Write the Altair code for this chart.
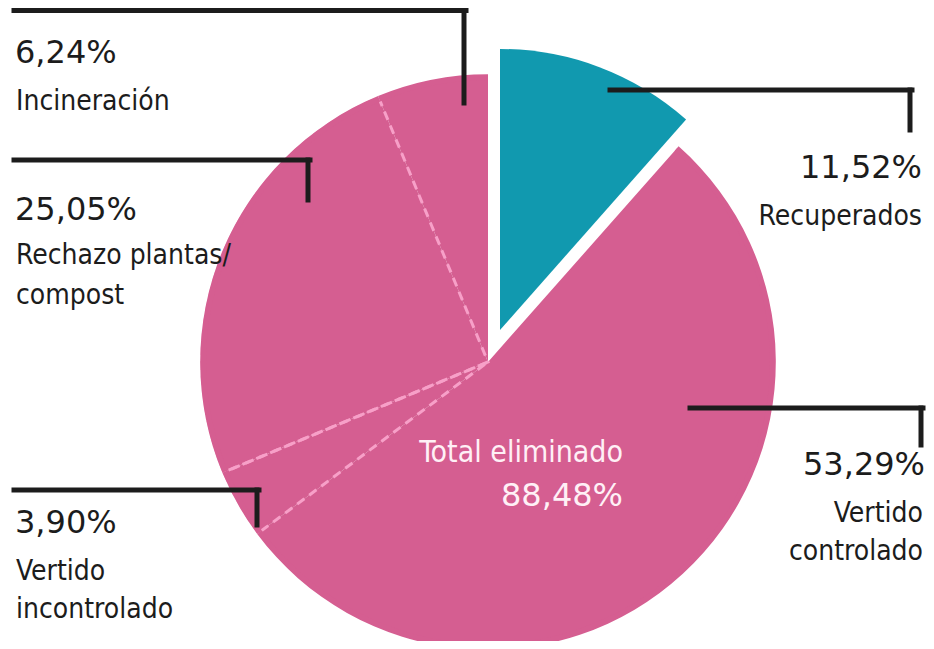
import altair as alt
import pandas as pd

# ---- data ----
categories = ["Recuperados", "Vertido controlado", "Vertido incontrolado",
              "Rechazo plantas/ compost", "Incineración"]
values = [11.52, 53.29, 3.90, 25.05, 6.24]
groups = ["recuperado", "eliminado", "eliminado", "eliminado", "eliminado"]
label_lines = [["Recuperados"], ["Vertido", "controlado"], ["Vertido", "incontrolado"],
               ["Rechazo plantas/", "compost"], ["Incineración"]]
total_label = "Total eliminado"

PINK = "#D55E91"
TEAL = "#1199AF"
DASH = "#F7A0C8"
INK = "#1c1c1c"
COND = "DejaVu Sans Condensed, Liberation Sans Narrow, sans-serif"

def pct(v):
    return f"{v:.2f}".replace(".", ",") + "%"

pie_df = pd.DataFrame({"category": categories, "value": values,
                       "group": groups, "order": list(range(len(values)))})

# ---- layout (view pixels) ----
CX, CY, R = 480, 354, 286
TEAL_CX, TEAL_CY, TEAL_R = 492, 322, 281

theta = alt.Theta("start:Q", scale=alt.Scale(domain=[0, 100], range=[0, 6.283185307179586]))
theta2 = alt.Theta2("end:Q")

base = (alt.Chart(pie_df)
        .transform_window(cum="sum(value)", sort=[alt.SortField("order")], frame=[None, 0])
        .transform_calculate(start="datum.cum - datum.value", end="datum.cum"))

pink = base.transform_filter("datum.group == 'eliminado'").mark_arc(
    radius=R, fill=PINK).encode(
    theta=theta, theta2=theta2, x=alt.value(CX), y=alt.value(CY))

dashes = base.transform_filter(
    "datum.category == 'Vertido incontrolado' || datum.category == 'Rechazo plantas/ compost'"
).mark_arc(radius=R, fillOpacity=0, stroke=DASH, strokeWidth=3, strokeDash=[9, 6]).encode(
    theta=theta, theta2=theta2, x=alt.value(CX), y=alt.value(CY))

ring = base.transform_filter("datum.group == 'eliminado'").mark_arc(
    radius=R + 1.8, radius2=R - 4, fill=PINK).encode(
    theta=theta, theta2=theta2, x=alt.value(CX), y=alt.value(CY))

teal = base.transform_filter("datum.group == 'recuperado'").mark_arc(
    radius=TEAL_R, fill=TEAL).encode(
    theta=theta, theta2=theta2, x=alt.value(TEAL_CX), y=alt.value(TEAL_CY))

# ---- annotation text ----
# (category index, x anchor, align, pct baseline, label baselines)
text_layout = [
    (0, 914, "right", 170, [217]),
    (1, 917, "right", 467, [514, 552]),
    (2, 7, "left", 525, [572, 610]),
    (3, 7, "left", 212, [256, 296]),
    (4, 7, "left", 55, [102]),
]
pct_rows, lab_rows = [], []
for idx, x, align, yp, ys in text_layout:
    pct_rows.append({"x": x, "y": yp, "t": pct(values[idx]), "align": align})
    for line, yl in zip(label_lines[idx], ys):
        lab_rows.append({"x": x + (-2 if align == "right" and idx == 1 else (1 if align == "left" else 0)),
                         "y": yl, "t": line, "align": align})

def text_layer(rows, font, size, color):
    layers = []
    for align in ("left", "right"):
        sub = [r for r in rows if r["align"] == align]
        if not sub:
            continue
        layers.append(alt.Chart(pd.DataFrame(sub)).mark_text(
            align=align, baseline="alphabetic", font=font, fontSize=size, color=color).encode(
            x=alt.X("x:Q", scale=None), y=alt.Y("y:Q", scale=None), text="t:N"))
    return layers

pct_layers = text_layer(pct_rows, "DejaVu Sans", 32, INK)
lab_layers = text_layer(lab_rows, COND, 28, INK)

total_value = sum(v for v, g in zip(values, groups) if g == "eliminado")
inner1 = alt.Chart(pd.DataFrame([{"x": 615, "y": 454, "t": total_label}])).mark_text(
    align="right", baseline="alphabetic", font=COND, fontSize=30, color="#FFF0F6").encode(
    x=alt.X("x:Q", scale=None), y=alt.Y("y:Q", scale=None), text="t:N")
inner2 = alt.Chart(pd.DataFrame([{"x": 615, "y": 498, "t": pct(total_value)}])).mark_text(
    align="right", baseline="alphabetic", font="DejaVu Sans", fontSize=32, color="#FFF0F6").encode(
    x=alt.X("x:Q", scale=None), y=alt.Y("y:Q", scale=None), text="t:N")

# ---- leader lines ----
seg_rows = [
    # Incineración
    {"x": 6, "y": 2.5, "x2": 458, "y2": 2.5}, {"x": 456, "y": 2.5, "x2": 456, "y2": 95},
    # Rechazo
    {"x": 6, "y": 152, "x2": 302, "y2": 152}, {"x": 300, "y": 152, "x2": 300, "y2": 192},
    # Vertido incontrolado
    {"x": 6, "y": 482, "x2": 251, "y2": 482}, {"x": 249, "y": 482, "x2": 249, "y2": 517},
    # Recuperados
    {"x": 602, "y": 82, "x2": 904, "y2": 82}, {"x": 902, "y": 82, "x2": 902, "y2": 122},
    # Vertido controlado
    {"x": 682, "y": 400, "x2": 915, "y2": 400}, {"x": 913, "y": 400, "x2": 913, "y2": 437},
]
leaders = alt.Chart(pd.DataFrame(seg_rows)).mark_rule(
    color=INK, strokeWidth=5, strokeCap="square").encode(
    x=alt.X("x:Q", scale=None), y=alt.Y("y:Q", scale=None),
    x2="x2:Q", y2="y2:Q")

chart = alt.layer(
    pink, dashes, ring, teal, leaders, *pct_layers, *lab_layers, inner1, inner2
).properties(
    width=918, height=633, autosize=alt.AutoSizeParams(type="none"), padding=0,
    background="white"
).configure_view(stroke=None)

chart.save("out.html", embed_options={"renderer": "svg", "actions": False})
